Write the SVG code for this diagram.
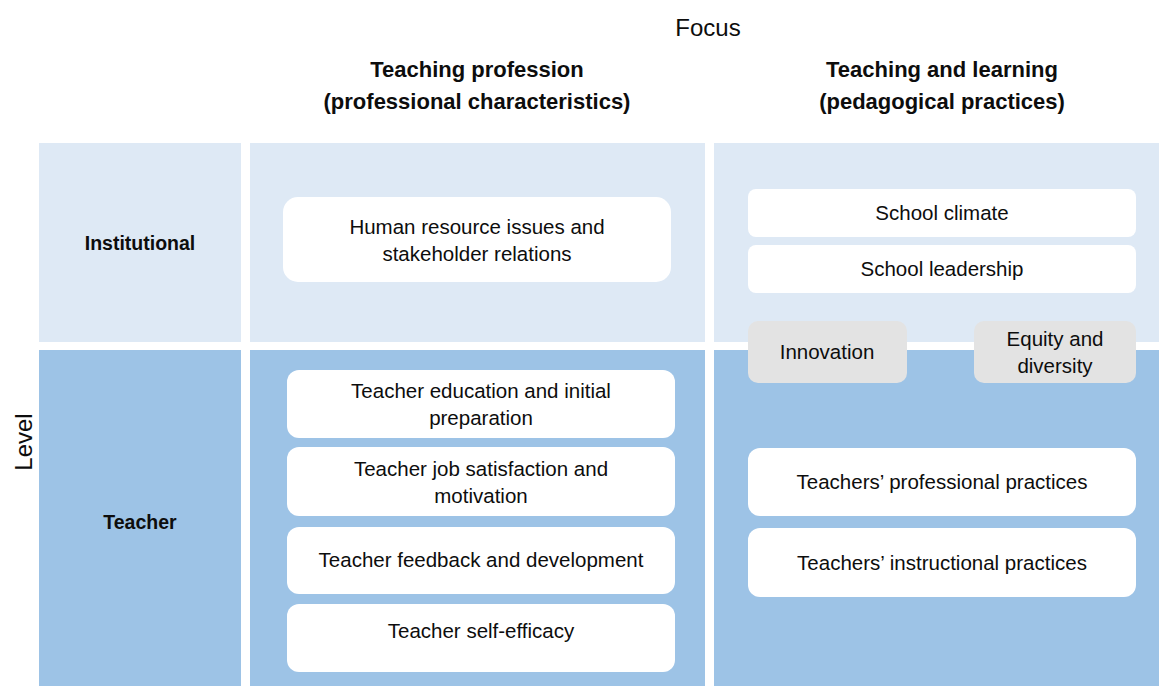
<svg xmlns="http://www.w3.org/2000/svg" width="1159" height="686" viewBox="0 0 1159 686">
<style>
text{font-family:"Liberation Sans",Arial,sans-serif;fill:#0d0d0d;text-anchor:middle}
.hd{font-size:22px;font-weight:bold}
.lv{font-size:19.5px;font-weight:bold}
.bx{font-size:20.5px}
.light{fill:#dee9f5}
.dark{fill:#9dc3e6}
.card{fill:#ffffff}
.gray{fill:#e3e3e3}
</style>
<rect width="1159" height="686" fill="#ffffff"/>
<g id="headers">
<text x="708" y="36" style="font-size:24px">Focus</text>
<text class="hd" x="477" y="77">Teaching profession</text>
<text class="hd" x="477" y="109">(professional characteristics)</text>
<text class="hd" x="942" y="77">Teaching and learning</text>
<text class="hd" x="942" y="109">(pedagogical practices)</text>
<text x="32" y="442" style="font-size:24px" transform="rotate(-90 32 442)">Level</text>
</g>
<g id="bands">
<rect class="light" x="39" y="143" width="202" height="199"/>
<rect class="light" x="250" y="143" width="455" height="199"/>
<rect class="light" x="714" y="143" width="445" height="199"/>
<rect class="dark" x="39" y="350" width="202" height="336"/>
<rect class="dark" x="250" y="350" width="455" height="336"/>
<rect class="dark" x="714" y="350" width="445" height="336"/>
</g>
<g id="level-institutional"><text class="lv" x="140" y="250">Institutional</text></g>
<g id="level-teacher"><text class="lv" x="140" y="529">Teacher</text></g>
<g id="n-hr">
<rect class="card" x="283" y="197" width="388" height="85" rx="15"/>
<text class="bx" x="477" y="234">Human resource issues and</text>
<text class="bx" x="477" y="261">stakeholder relations</text>
</g>
<g id="n-education">
<rect class="card" x="287" y="370" width="388" height="68" rx="12"/>
<text class="bx" x="481" y="398">Teacher education and initial</text>
<text class="bx" x="481" y="425">preparation</text>
</g>
<g id="n-satisfaction">
<rect class="card" x="287" y="447" width="388" height="69" rx="12"/>
<text class="bx" x="481" y="476">Teacher job satisfaction and</text>
<text class="bx" x="481" y="503">motivation</text>
</g>
<g id="n-feedback">
<rect class="card" x="287" y="527" width="388" height="67" rx="12"/>
<text class="bx" x="481" y="567">Teacher feedback and development</text>
</g>
<g id="n-selfefficacy">
<rect class="card" x="287" y="604" width="388" height="68" rx="12"/>
<text class="bx" x="481" y="638">Teacher self-efficacy</text>
</g>
<g id="n-climate">
<rect class="card" x="748" y="189" width="388" height="48" rx="8"/>
<text class="bx" x="942" y="220">School climate</text>
</g>
<g id="n-leadership">
<rect class="card" x="748" y="245" width="388" height="48" rx="8"/>
<text class="bx" x="942" y="276">School leadership</text>
</g>
<g id="n-innovation">
<rect class="gray" x="748" y="321" width="159" height="62" rx="10"/>
<text class="bx" x="827" y="359">Innovation</text>
</g>
<g id="n-equity">
<rect class="gray" x="974" y="321" width="162" height="62" rx="10"/>
<text class="bx" x="1055" y="346">Equity and</text>
<text class="bx" x="1055" y="373">diversity</text>
</g>
<g id="n-professional">
<rect class="card" x="748" y="448" width="388" height="68" rx="12"/>
<text class="bx" x="942" y="489">Teachers’ professional practices</text>
</g>
<g id="n-instructional">
<rect class="card" x="748" y="528" width="388" height="69" rx="12"/>
<text class="bx" x="942" y="570">Teachers’ instructional practices</text>
</g>
<g id="connectors"></g>
</svg>
